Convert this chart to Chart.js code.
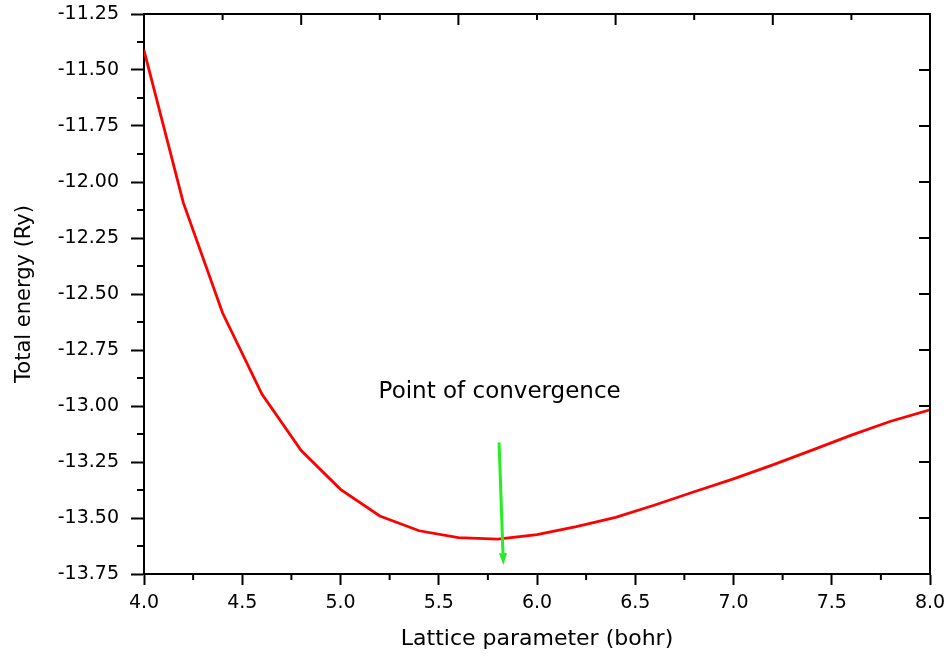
<!DOCTYPE html>
<html>
<head>
<meta charset="utf-8">
<script src="https://cdn.jsdelivr.net/npm/chart.js@4"></script>
<style>
  body { margin: 0; background: #fff; }
</style>
</head>
<body>
<canvas id="myChart" width="948" height="658"></canvas>
<script>
// lattice parameter (bohr) and total energy (Ry)
const lattice = [4.0, 4.2, 4.4, 4.6, 4.8, 5.0, 5.2, 5.4, 5.6, 5.8, 6.0,
                 6.2, 6.4, 6.6, 6.8, 7.0, 7.2, 7.4, 7.6, 7.8, 8.0];
const energy = [-11.412, -12.092, -12.585, -12.947, -13.199, -13.372, -13.491,
                -13.557, -13.588, -13.594, -13.574, -13.539, -13.497, -13.442,
                -13.383, -13.325, -13.263, -13.197, -13.130, -13.068, -13.017];

// annotation: label position and arrow start/end, in data units
const noteText = 'Point of convergence';
const notePos = [5.81, -12.965];
const arrowFrom = [5.807, -13.163];
const arrowTo = [5.829, -13.71];

const xMin = 4.0, xMax = 8.0;
const yMin = -13.75, yMax = -11.25;

Chart.defaults.font.family = '"DejaVu Sans", sans-serif';
Chart.defaults.color = '#000';

// top/right frame, minor ticks, and the arrow note
const frameTicks = {
    id: 'frameTicks',
    afterDraw(chart) {
        const { ctx, chartArea: a, scales: { x, y } } = chart;
        ctx.save();
        ctx.strokeStyle = '#000';
        ctx.lineWidth = 2;
        ctx.beginPath();
        ctx.moveTo(a.left - 1, a.top);
        ctx.lineTo(a.right, a.top);
        ctx.lineTo(a.right, a.bottom + 1);

        // left minor ticks (outward)
        for (let i = 1; i < 20; i += 2) {
            const py = y.getPixelForValue(yMin + i * 0.125);
            ctx.moveTo(a.left, py);
            ctx.lineTo(a.left - 7, py);
        }
        // bottom minor ticks (outward)
        for (let i = 1; i < 16; i += 2) {
            const px = x.getPixelForValue(xMin + i * 0.25);
            ctx.moveTo(px, a.bottom);
            ctx.lineTo(px, a.bottom + 6);
        }
        // right ticks (inward)
        for (let i = 1; i < 10; i++) {
            const py = y.getPixelForValue(yMin + i * 0.25);
            ctx.moveTo(a.right, py);
            ctx.lineTo(a.right - 11, py);
        }
        // top ticks (inward), every 0.4 with longer ones every 0.8
        for (let i = 1; i < 10; i++) {
            const px = x.getPixelForValue(xMin + i * 0.4);
            ctx.moveTo(px, a.top);
            ctx.lineTo(px, a.top + (i % 2 === 0 ? 11 : 6));
        }
        ctx.stroke();

        // note text
        ctx.fillStyle = '#000';
        ctx.font = '23px "DejaVu Sans", sans-serif';
        ctx.textAlign = 'center';
        ctx.textBaseline = 'alphabetic';
        ctx.fillText(noteText, x.getPixelForValue(notePos[0]), y.getPixelForValue(notePos[1]));

        // green arrow
        const x0 = x.getPixelForValue(arrowFrom[0]), y0 = y.getPixelForValue(arrowFrom[1]);
        const x1 = x.getPixelForValue(arrowTo[0]), y1 = y.getPixelForValue(arrowTo[1]);
        const ang = Math.atan2(y1 - y0, x1 - x0);
        const headLen = 12, headW = 4;
        const bx = x1 - headLen * Math.cos(ang), by = y1 - headLen * Math.sin(ang);
        ctx.strokeStyle = '#22ee22';
        ctx.fillStyle = '#22ee22';
        ctx.lineWidth = 3;
        ctx.beginPath();
        ctx.moveTo(x0, y0);
        ctx.lineTo(bx, by);
        ctx.stroke();
        ctx.beginPath();
        ctx.moveTo(x1, y1);
        ctx.lineTo(bx + headW * Math.sin(ang), by - headW * Math.cos(ang));
        ctx.lineTo(bx - headW * Math.sin(ang), by + headW * Math.cos(ang));
        ctx.closePath();
        ctx.fill();
        ctx.restore();
    }
};

const ctx = document.getElementById('myChart');
const myChart = new Chart(ctx, {
    type: 'line',
    data: {
        datasets: [{
            label: 'Total energy',
            data: lattice.map((v, i) => ({ x: v, y: energy[i] })),
            borderColor: '#ff0000',
            borderWidth: 2.8,
            pointRadius: 0,
            tension: 0,
            fill: false
        }]
    },
    options: {
        responsive: false,
        animation: false,
        layout: { padding: { left: 0, top: 14, right: 18, bottom: 0 } },
        plugins: {
            legend: { display: false },
            tooltip: { enabled: false }
        },
        scales: {
            x: {
                type: 'linear',
                min: xMin,
                max: xMax,
                border: { display: true, color: '#000', width: 2 },
                grid: {
                    drawOnChartArea: false,
                    drawTicks: true,
                    tickLength: 11,
                    tickWidth: 2,
                    tickColor: '#000'
                },
                ticks: {
                    stepSize: 0.5,
                    autoSkip: false,
                    maxRotation: 0,
                    padding: 7,
                    font: { size: 19 },
                    callback: v => Number(v).toFixed(1)
                },
                title: {
                    display: true,
                    text: 'Lattice parameter (bohr)',
                    font: { size: 22 },
                    padding: { top: 0, bottom: 6 }
                },
                afterFit(scale) {
                    scale.height = 84;
                    scale.paddingLeft = 0;
                    scale.paddingRight = 0;
                }
            },
            y: {
                type: 'linear',
                min: yMin,
                max: yMax,
                border: { display: true, color: '#000', width: 2 },
                grid: {
                    drawOnChartArea: false,
                    drawTicks: true,
                    tickLength: 13,
                    tickWidth: 2,
                    tickColor: '#000'
                },
                ticks: {
                    stepSize: 0.25,
                    autoSkip: false,
                    padding: 12,
                    font: { size: 19 },
                    callback: v => Number(v).toFixed(2)
                },
                title: {
                    display: true,
                    text: 'Total energy (Ry)',
                    font: { size: 21 },
                    padding: { top: 12, bottom: 0 }
                },
                afterFit(scale) {
                    scale.width = 144;
                    scale.paddingTop = 0;
                    scale.paddingBottom = 0;
                }
            }
        }
    },
    plugins: [frameTicks]
});
</script>
</body>
</html>
